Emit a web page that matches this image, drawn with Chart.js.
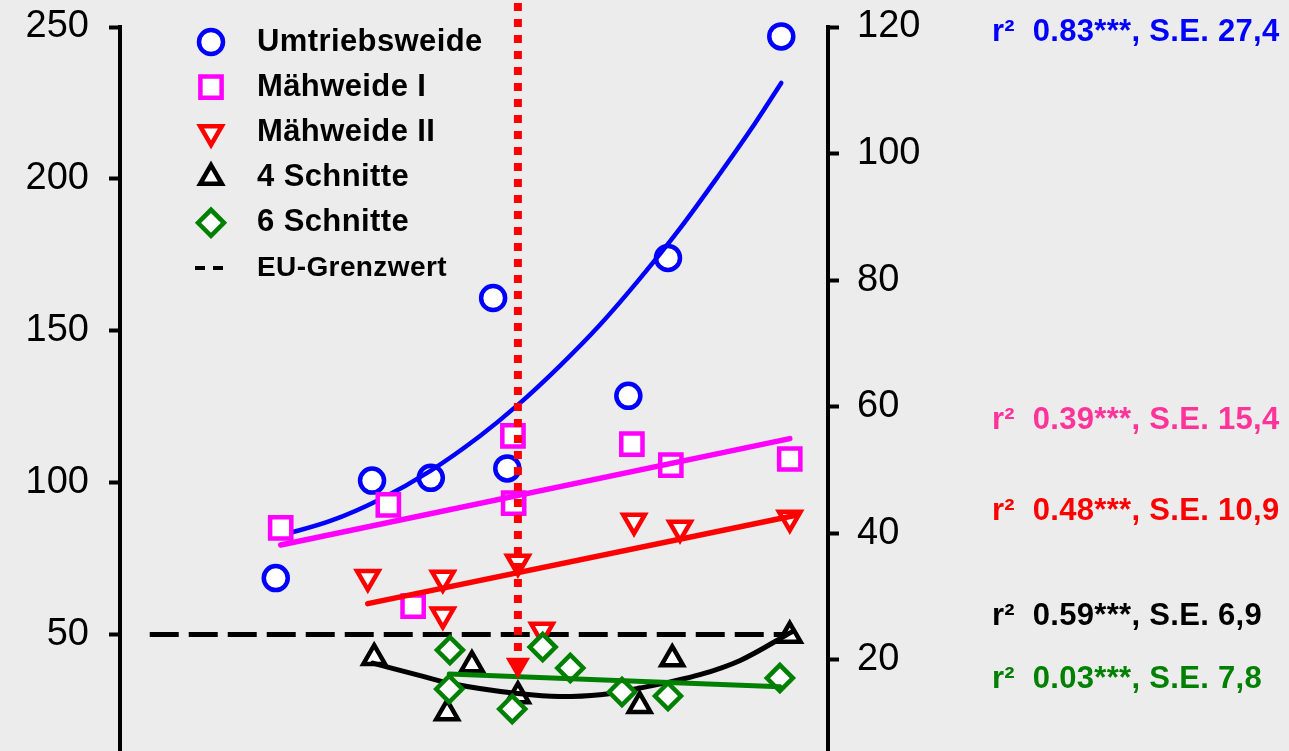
<!DOCTYPE html>
<html>
<head>
<meta charset="utf-8">
<script src="https://cdn.jsdelivr.net/npm/chart.js@4/dist/chart.umd.min.js"></script>
<style>
  html, body { margin: 0; padding: 0; background: #ececec; overflow: hidden; }
</style>
</head>
<body>
<canvas id="chart" width="1289" height="830"></canvas>
<script>
// x in relative units: 0 = left axis, 100 = right axis (no x axis shown)
const umtriebX = [22.0, 35.6, 43.9, 52.7, 54.7, 71.8, 77.4, 93.4];
const umtriebY = [68.6, 100.7, 101.6, 160.8, 104.7, 128.6, 174.0, 246.9];
const umtriebFitX = [23.0, 29.7, 36.7, 43.9, 50.8, 56.2, 62.1, 67.8, 73.4, 79.1, 84.7, 89.0, 93.4];
const umtriebFitY = [82.8, 87.4, 94.5, 104.0, 115.3, 125.6, 138.4, 152.0, 167.1, 183.7, 201.6, 215.9, 231.6];

const maehweide1X = [22.7, 37.9, 41.4, 55.5, 55.6, 72.3, 77.8, 94.6];
const maehweide1Y = [85.1, 92.7, 59.4, 115.4, 93.3, 112.7, 105.8, 107.8];
const maehweide1FitX = [22.7, 94.6];
const maehweide1FitY = [79.5, 114.5];

const maehweide2X = [35.0, 45.6, 45.6, 56.2, 59.6, 72.6, 79.1, 94.6];
const maehweide2Y = [68.9, 68.6, 56.5, 73.9, 51.5, 87.4, 85.1, 88.4];
const maehweide2FitX = [35.0, 95.3];
const maehweide2FitY = [60.2, 89.2];

const schnitte4X = [35.9, 46.2, 49.7, 56.2, 73.4, 78.0, 94.6];
const schnitte4Y = [42.4, 24.2, 40.0, 29.8, 26.6, 42.0, 49.7];
const schnitte4FitX = [35.7, 42.4, 46.6, 56.2, 62.1, 67.8, 73.4, 81.9, 87.6, 94.9];
const schnitte4FitY = [40.6, 36.5, 34.0, 30.6, 29.6, 30.2, 32.4, 36.8, 41.5, 50.9];

const schnitte6X = [46.6, 46.5, 55.4, 59.7, 63.6, 70.9, 77.4, 93.2];
const schnitte6Y = [44.9, 32.1, 25.5, 45.9, 39.0, 31.1, 29.8, 35.7];
const schnitte6FitX = [46.5, 93.2];
const schnitte6FitY = [37.0, 32.8];

const euLimit = 50;
const euLimitX = [4.2, 95.3];

// red dotted marker line with arrow
const cutX = 56.2;
const cutLineY = [257.9, 42.6];
const cutArrowY = 40.1;

const statTexts = [
  'r²  0.83***, S.E. 27,4',
  'r²  0.39***, S.E. 15,4',
  'r²  0.48***, S.E. 10,9',
  'r²  0.59***, S.E. 6,9',
  'r²  0.03***, S.E. 7,8'
];
const statY = [248.2, 120.6, 90.5, 55.9, 35.1];
const statColors = ['#0000ff', '#ff3399', '#ff0000', '#000000', '#008000'];

const FONT = "'Liberation Sans', Arial, sans-serif";

function pts(xs, ys) {
  return xs.map((x, i) => ({ x: x, y: ys[i] }));
}

function markers(label, xs, ys, color, style, radius, rotation, order) {
  return {
    label: label,
    data: pts(xs, ys),
    showLine: false,
    pointStyle: style,
    pointRadius: radius,
    pointRotation: rotation,
    pointBorderWidth: 4.5,
    pointBorderColor: color,
    pointBackgroundColor: '#ffffff',
    order: order,
    clip: false
  };
}

function fitLine(xs, ys, color, width, order) {
  return {
    data: pts(xs, ys),
    showLine: true,
    pointRadius: 0,
    borderColor: color,
    borderWidth: width,
    borderCapStyle: 'round',
    cubicInterpolationMode: 'monotone',
    order: order,
    clip: false
  };
}

const datasets = [
  markers('Umtriebsweide', umtriebX, umtriebY, '#0000ff', 'circle', 12, 0, 11),
  markers('Mähweide I', maehweide1X, maehweide1Y, '#ff00ff', 'rect', 15, 0, 9),
  markers('Mähweide II', maehweide2X, maehweide2Y, '#ff0000', 'triangle', 12.5, 180, 7),
  markers('4 Schnitte', schnitte4X, schnitte4Y, '#000000', 'triangle', 12.5, 0, 5),
  markers('6 Schnitte', schnitte6X, schnitte6Y, '#008000', 'rectRot', 13, 0, 3),
  {
    label: 'EU-Grenzwert',
    isDashLegend: true,
    data: pts(euLimitX, euLimitX.map(() => euLimit)),
    showLine: true,
    pointRadius: 0,
    borderColor: '#000000',
    borderWidth: 5,
    borderDash: [29, 10],
    order: 12,
    clip: false
  },
  fitLine(umtriebFitX, umtriebFitY, '#0000ff', 4.5, 10),
  fitLine(maehweide1FitX, maehweide1FitY, '#ff00ff', 5.5, 8),
  fitLine(maehweide2FitX, maehweide2FitY, '#ff0000', 5.5, 6),
  fitLine(schnitte4FitX, schnitte4FitY, '#000000', 5, 4),
  fitLine(schnitte6FitX, schnitte6FitY, '#008000', 5, 2),
  {
    data: pts([cutX, cutX], cutLineY),
    showLine: true,
    pointRadius: 0,
    borderColor: '#ff0000',
    borderWidth: 8,
    borderDash: [8, 8],
    borderCapStyle: 'butt',
    order: 0,
    clip: false
  },
  {
    data: [{ x: cutX, y: cutArrowY }],
    showLine: false,
    pointStyle: 'triangle',
    pointRotation: 180,
    pointRadius: 14,
    pointBorderWidth: 0,
    pointBackgroundColor: '#ff0000',
    order: 1,
    clip: false
  }
];

const legendBox = {
  id: 'legendBox',
  afterDraw(chart) {
    const ctx = chart.ctx;
    const rows = chart.data.datasets.filter(d => d.label);
    ctx.save();
    rows.forEach((ds, i) => {
      const y = 42 + i * 45.2;
      if (ds.isDashLegend) {
        ctx.strokeStyle = ds.borderColor;
        ctx.lineWidth = 4;
        ctx.setLineDash([10, 8]);
        ctx.beginPath();
        ctx.moveTo(195, y);
        ctx.lineTo(223, y);
        ctx.stroke();
        ctx.setLineDash([]);
        ctx.font = 'bold 28px ' + FONT;
      } else {
        ctx.fillStyle = ds.pointBackgroundColor;
        ctx.strokeStyle = ds.pointBorderColor;
        ctx.lineWidth = ds.pointBorderWidth;
        Chart.helpers.drawPoint(ctx, {
          pointStyle: ds.pointStyle,
          rotation: ds.pointRotation,
          radius: ds.pointRadius,
          borderWidth: ds.pointBorderWidth
        }, 211, y);
        ctx.font = 'bold 31px ' + FONT;
      }
      ctx.letterSpacing = '0.4px';
      ctx.fillStyle = '#000000';
      ctx.textAlign = 'left';
      ctx.textBaseline = 'middle';
      ctx.fillText(ds.label, 257, y);
    });
    ctx.restore();
  }
};

const statsText = {
  id: 'statsText',
  afterDraw(chart) {
    const ctx = chart.ctx;
    const yScale = chart.scales.y;
    ctx.save();
    ctx.font = 'bold 31px ' + FONT;
    ctx.letterSpacing = '0.3px';
    ctx.textAlign = 'left';
    ctx.textBaseline = 'middle';
    statTexts.forEach((t, i) => {
      ctx.fillStyle = statColors[i];
      ctx.fillText(t, chart.chartArea.right + 164, yScale.getPixelForValue(statY[i]));
    });
    ctx.restore();
  }
};

// tick label padding should not push the plot area inward
function fitAxis(width) {
  return function (s) {
    s.width = width;
    s.paddingTop = 0;
    s.paddingBottom = 0;
  };
}

new Chart(document.getElementById('chart'), {
  type: 'line',
  data: { datasets: datasets },
  options: {
    responsive: false,
    animation: false,
    events: [],
    layout: { padding: { top: 27, bottom: 43.5, left: 0, right: 0 } },
    plugins: { legend: { display: false }, tooltip: { enabled: false } },
    scales: {
      x: { type: 'linear', min: 0, max: 100, display: false },
      y: {
        position: 'left',
        min: 0,
        max: 250,
        afterFit: fitAxis(120),
        ticks: { stepSize: 50, padding: 20, color: '#000', font: { family: FONT, size: 38 } },
        grid: { drawOnChartArea: false, tickLength: 11, tickWidth: 4, color: '#000', tickColor: '#000' },
        border: { display: true, color: '#000', width: 4 }
      },
      y2: {
        position: 'right',
        min: 0,
        max: 120,
        afterFit: fitAxis(461),
        ticks: { stepSize: 20, padding: 18, color: '#000', font: { family: FONT, size: 38 } },
        grid: { drawOnChartArea: false, tickLength: 11, tickWidth: 4, color: '#000', tickColor: '#000' },
        border: { display: true, color: '#000', width: 4 }
      }
    }
  },
  plugins: [legendBox, statsText]
});
</script>
</body>
</html>
